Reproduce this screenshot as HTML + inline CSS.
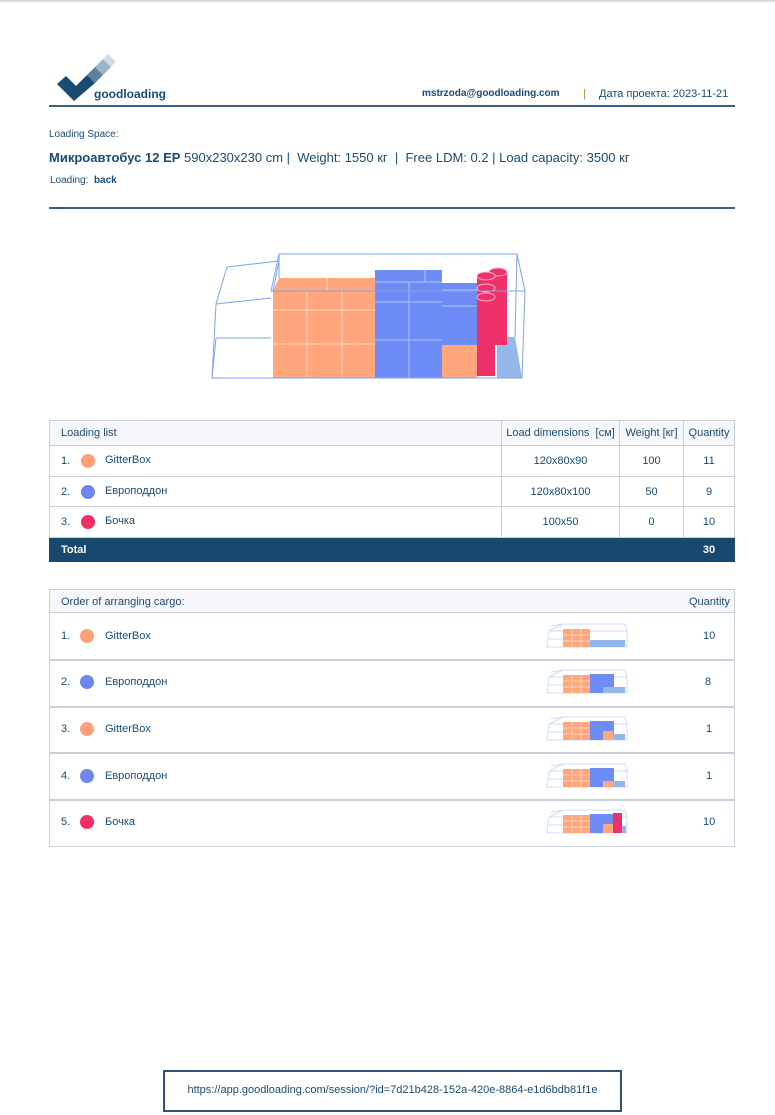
<!DOCTYPE html>
<html><head><meta charset="utf-8"><style>
*{margin:0;padding:0;box-sizing:border-box}
body{width:775px;height:1115px;background:#fff;position:relative;overflow:hidden;font-family:"Liberation Sans","Noto Sans CJK SC",sans-serif;color:#1a4b72;font-size:11px}
.a{position:absolute;white-space:nowrap}
.dot{position:absolute;width:14px;height:14px;border-radius:50%}
.hl{position:absolute;height:2px;background:#3c5f80}
table{border-collapse:collapse;position:absolute;left:49px;width:686px}
td{border:1px solid #c9cfdb;font-size:11px;color:#1a4b72}
</style></head><body>
<div class="a" style="left:0;top:0;width:775px;height:3px;background:linear-gradient(#ccc,#fff)"></div>
<!-- logo -->
<svg class="a" style="left:0;top:0" width="130" height="105">
<polygon points="57,84 66,76 76,86 87,75 95,83 74,101" fill="#1a4b72"/>
<polygon points="87,75 95,67 103,75 95,83" fill="#5f7f9e"/>
<polygon points="95,67 103,59 111,67 103,75" fill="#9fb3c7"/>
<polygon points="103,59 108,54 116,62 111,67" fill="#d2dbe4"/>
</svg>
<div class="a" style="left:94px;top:87px;font-size:12px;font-weight:bold;color:#1a4b72">goodloading</div>
<div class="a" style="left:422px;top:88px;font-weight:bold;font-size:10px">mstrzoda@goodloading.com</div>
<div class="a" style="left:583px;top:88px;color:#c08040">|</div>
<div class="a" style="left:599px;top:88px">Дата проекта: 2023-11-21</div>
<div class="hl" style="left:49px;top:105px;width:686px"></div>
<div class="a" style="left:49px;top:129px;font-size:10px">Loading Space:</div>
<div class="a" style="left:49px;top:150px;font-size:13px"><b>Микроавтобус 12 EP</b> 590x230x230 cm |&nbsp; Weight: 1550 кг &nbsp;|&nbsp; Free LDM: 0.2 | Load capacity: 3500 кг</div>
<div class="a" style="left:50px;top:175px;font-size:10px">Loading: &nbsp;<b>back</b></div>
<div class="hl" style="left:49px;top:207px;width:686px"></div>
<!-- main 3d -->
<svg class="a" style="left:0;top:0" width="775" height="400">
<g fill="none" stroke="#7fa3e8" stroke-width="1">
<polyline points="227,267 279,261 273,291"/><polyline points="227,267 216,304 212,378 274,378"/>
<line x1="216" y1="304" x2="271" y2="298"/><line x1="212" y1="378" x2="216" y2="338"/><line x1="216" y1="338" x2="271" y2="338"/>
<polygon points="279,254 517,254 525,291 271,291"/>
<line x1="279" y1="254" x2="279" y2="278"/><line x1="517" y1="254" x2="515" y2="337"/>
</g>
<polygon points="273,291 279,278 375,278 375,378 273,378" fill="#ffa67c"/>
<g stroke="#ffd6c2" stroke-width="1"><line x1="273" y1="310" x2="375" y2="310"/><line x1="273" y1="344" x2="375" y2="344"/><line x1="307" y1="291" x2="307" y2="378"/><line x1="342" y1="291" x2="342" y2="378"/><line x1="277" y1="291" x2="375" y2="291"/><line x1="327" y1="278" x2="327" y2="291"/></g>
<rect x="375" y="270" width="67" height="108" fill="#6e8cf6"/>
<rect x="442" y="283" width="35" height="62" fill="#6e8cf6"/>
<rect x="442" y="345" width="35" height="33" fill="#ffa67c"/>
<polygon points="497,337 515,337 522,378 497,378" fill="#93b7ea"/>
<g stroke="#b0c2fa" stroke-width="1"><line x1="375" y1="282" x2="442" y2="282"/><line x1="375" y1="302" x2="442" y2="302"/><line x1="375" y1="340" x2="442" y2="340"/><line x1="409" y1="282" x2="409" y2="378"/><line x1="425" y1="270" x2="425" y2="282"/><line x1="442" y1="306" x2="477" y2="306"/><line x1="442" y1="290" x2="477" y2="290"/></g>
<g fill="#f0306a" stroke="#ffb0c8" stroke-width="1">
<rect x="490" y="272" width="17" height="73" stroke="none"/><ellipse cx="498" cy="272" rx="9" ry="4"/>
<rect x="477" y="276" width="18" height="100" stroke="none"/><ellipse cx="486" cy="276" rx="9" ry="4"/><ellipse cx="486" cy="288" rx="9" ry="4"/><ellipse cx="486" cy="297" rx="9" ry="4"/>
</g>
<g fill="none" stroke="#7fa3e8"><line x1="271" y1="291" x2="525" y2="291"/><line x1="525" y1="291" x2="522" y2="378"/><line x1="271" y1="378" x2="522" y2="378"/></g>
</svg>
<!-- loading list -->
<table style="top:420px">
<tr style="height:25px;background:#f6f7fa"><td style="padding-left:11px">Loading list</td><td style="width:118px;text-align:center">Load dimensions&nbsp; [см]</td><td style="width:64px;text-align:center">Weight [кг]</td><td style="width:51px;text-align:center">Quantity</td></tr>
<tr style="height:31px"><td style="padding-left:11px;position:relative">1.<span class="dot" style="left:31px;top:8px;background:#ffa07a"></span><span style="position:absolute;left:55px;top:8px">GitterBox</span></td><td style="text-align:center">120x80x90</td><td style="text-align:center">100</td><td style="text-align:center">11</td></tr>
<tr style="height:30px"><td style="padding-left:11px;position:relative">2.<span class="dot" style="left:31px;top:8px;background:#6d87ee"></span><span style="position:absolute;left:55px;top:8px">Европоддон</span></td><td style="text-align:center">120x80x100</td><td style="text-align:center">50</td><td style="text-align:center">9</td></tr>
<tr style="height:31px"><td style="padding-left:11px;position:relative">3.<span class="dot" style="left:31px;top:8px;background:#f33063"></span><span style="position:absolute;left:55px;top:8px">Бочка</span></td><td style="text-align:center">100x50</td><td style="text-align:center">0</td><td style="text-align:center">10</td></tr>
<tr style="height:24px;background:#17496e"><td colspan="3" style="color:#fff;font-weight:bold;padding-left:11px;border-color:#17496e">Total</td><td style="color:#fff;font-weight:bold;text-align:center;border-color:#17496e">30</td></tr>
</table>
<!-- order -->
<div class="a" style="left:49px;top:589px;width:686px;height:258px;border:1px solid #c9cfdb"></div>
<div class="a" style="left:50px;top:590px;width:684px;height:23px;background:#f6f7fa;border-bottom:1px solid #c9cfdb"></div>
<div class="a" style="left:61px;top:596px">Order of arranging cargo:</div>
<div class="a" style="left:689px;top:596px">Quantity</div>
<div class="a" style="left:50px;top:659px;width:684px;height:2px;background:#c9cfdb"></div>
<div class="a" style="left:50px;top:706px;width:684px;height:2px;background:#c9cfdb"></div>
<div class="a" style="left:50px;top:752px;width:684px;height:2px;background:#c9cfdb"></div>
<div class="a" style="left:50px;top:799px;width:684px;height:2px;background:#c9cfdb"></div>
<div class="a" style="left:61px;top:630px">1.</div><span class="dot" style="left:80px;top:629px;background:#ffa07a"></span><div class="a" style="left:105px;top:630px">GitterBox</div><div class="a" style="left:703px;top:630px">10</div>
<div class="a" style="left:61px;top:676px">2.</div><span class="dot" style="left:80px;top:675px;background:#6d87ee"></span><div class="a" style="left:105px;top:676px">Европоддон</div><div class="a" style="left:705px;top:676px">8</div>
<div class="a" style="left:61px;top:723px">3.</div><span class="dot" style="left:80px;top:722px;background:#ffa07a"></span><div class="a" style="left:105px;top:723px">GitterBox</div><div class="a" style="left:706px;top:723px">1</div>
<div class="a" style="left:61px;top:770px">4.</div><span class="dot" style="left:80px;top:769px;background:#6d87ee"></span><div class="a" style="left:105px;top:770px">Европоддон</div><div class="a" style="left:706px;top:770px">1</div>
<div class="a" style="left:61px;top:816px">5.</div><span class="dot" style="left:80px;top:815px;background:#f33063"></span><div class="a" style="left:105px;top:816px">Бочка</div><div class="a" style="left:703px;top:816px">10</div>
<svg class="a" style="left:0;top:0" width="775" height="860">
<defs><g id="w" fill="none" stroke="#cfdcf6" stroke-width="1"><polygon points="563,-12 625,-12 627,-5 549,-5"/><polyline points="549,-5 547,11 627,11 627,-5"/><line x1="549" y1="3" x2="563" y2="3"/><line x1="551" y1="-10" x2="563" y2="-12"/></g>
<g id="o"><rect x="563" y="-7" width="27" height="18" fill="#ffa67c"/><g stroke="#ffd0b8"><line x1="563" y1="-1" x2="590" y2="-1"/><line x1="563" y1="5" x2="590" y2="5"/><line x1="572" y1="-7" x2="572" y2="11"/><line x1="581" y1="-7" x2="581" y2="11"/></g></g></defs>
<g transform="translate(0,636)"><use href="#w"/><use href="#o"/><rect x="590" y="4" width="35" height="7" fill="#93b7ea"/></g>
<g transform="translate(0,682)"><use href="#w"/><use href="#o"/><rect x="590" y="-8" width="24" height="19" fill="#6e8cf6"/><rect x="603" y="5" width="22" height="6" fill="#93b7ea"/></g>
<g transform="translate(0,729)"><use href="#w"/><use href="#o"/><rect x="590" y="-8" width="24" height="19" fill="#6e8cf6"/><rect x="603" y="2" width="10" height="9" fill="#ffa67c"/><rect x="613" y="5" width="12" height="6" fill="#93b7ea"/></g>
<g transform="translate(0,776)"><use href="#w"/><use href="#o"/><rect x="590" y="-8" width="24" height="19" fill="#6e8cf6"/><rect x="603" y="5" width="10" height="6" fill="#ffa67c"/><rect x="613" y="5" width="12" height="6" fill="#93b7ea"/></g>
<g transform="translate(0,822)"><use href="#w"/><use href="#o"/><rect x="590" y="-8" width="24" height="19" fill="#6e8cf6"/><rect x="603" y="2" width="10" height="9" fill="#ffa67c"/><rect x="613" y="-9" width="9" height="20" fill="#f0306a"/><rect x="622" y="4" width="4" height="7" fill="#93b7ea"/></g>
</svg>
<!-- footer -->
<div class="a" style="left:163px;top:1070px;width:459px;height:42px;border:2px solid #2d5478"></div>
<div class="a" style="left:163px;top:1084px;width:459px;text-align:center;font-size:11px;color:#1a4b72">https://app.goodloading.com/session/?id=7d21b428-152a-420e-8864-e1d6bdb81f1e</div>
</body></html>
